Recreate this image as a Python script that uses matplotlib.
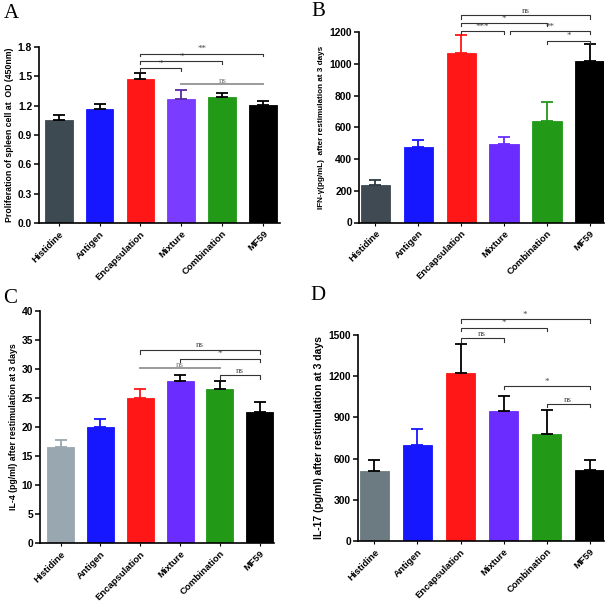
import matplotlib
matplotlib.use("Agg")
import matplotlib.pyplot as plt
import numpy as np

plt.rcParams["font.family"] = ["Liberation Sans", "DejaVu Sans"]
plt.rcParams["font.weight"] = "bold"

# ---- data ------------------------------------------------------------------
CATEGORIES = ["Histidine", "Antigen", "Encapsulation", "Mixture", "Combination", "MF59"]

prolif_mean = [1.05, 1.165, 1.475, 1.27, 1.285, 1.21]
prolif_err = [0.055, 0.05, 0.055, 0.09, 0.04, 0.04]
prolif_ticks = [0.0, 0.3, 0.6, 0.9, 1.2, 1.5, 1.8]
prolif_sig = [(2, 3, 1.585, "*", False), (2, 4, 1.653, "*", False),
              (2, 5, 1.732, "**", False), (3, 5, 1.42, "ns", True)]

ifn_mean = [238, 476, 1068, 493, 638, 1018]
ifn_err = [32, 42, 110, 48, 122, 106]
ifn_ticks = [0, 200, 400, 600, 800, 1000, 1200]
ifn_sig = [(2, 5, 1304, "ns", False), (2, 4, 1256, "*", False),
           (2, 3, 1207, "***", False), (3.15, 5, 1207, "**", False),
           (4, 5, 1146, "*", False)]

il4_mean = [16.6, 20.0, 25.0, 27.9, 26.6, 22.6]
il4_err = [1.15, 1.45, 1.5, 1.1, 1.35, 1.7]
il4_ticks = [0, 5, 10, 15, 20, 25, 30, 35, 40]
il4_sig = [(2, 5, 33.3, "ns", False), (3, 5, 31.8, "*", False),
           (2, 4, 30.1, "ns", True), (4, 5, 28.9, "ns", False)]

il17_mean = [508, 698, 1223, 950, 780, 516]
il17_err = [80, 114, 209, 108, 175, 72]
il17_ticks = [0, 300, 600, 900, 1200, 1500]
il17_sig = [(2, 5, 1614, "*", False), (2, 4, 1554, "*", False),
            (2, 3, 1475, "ns", False), (3, 5, 1130, "*", False),
            (4, 5, 997, "ns", False)]

# ---- styling ---------------------------------------------------------------
BLUE, RED, GREEN, BLACK = "#1616ff", "#ff1616", "#229a18", "#000000"


def draw_panel(ax, means, errs, ticks, sig, ylabel, colors, ecolors, xlim,
               fmt, label_size=6.2):
    x = np.arange(len(CATEGORIES))
    ax.bar(x, means, width=0.68, color=colors, edgecolor=colors, linewidth=0.6, zorder=2)
    for xi, m, e, ec in zip(x, means, errs, ecolors):
        ax.errorbar(xi, m, yerr=[[0], [e]], fmt="none", ecolor=ec,
                    elinewidth=1.3, capsize=4.6, capthick=1.3, zorder=3)
    ax.set_xlim(*xlim)
    ax.set_ylim(ticks[0], ticks[-1])
    ax.set_yticks(ticks)
    ax.set_yticklabels([fmt.format(t) for t in ticks], fontsize=7.4, fontweight="bold")
    ax.set_xticks(x)
    ax.set_xticklabels(CATEGORIES, rotation=45, ha="right", rotation_mode="anchor",
                       fontsize=6.8, fontweight="bold")
    ax.tick_params(axis="y", length=3.5, width=1.1, pad=1.5)
    ax.tick_params(axis="x", length=2.5, width=0.8, pad=2)
    for side in ("top", "right"):
        ax.spines[side].set_visible(False)
    for side in ("left", "bottom"):
        ax.spines[side].set_linewidth(1.2)
    ax.set_ylabel(ylabel, fontsize=label_size, fontweight="bold", labelpad=3)

    span = ticks[-1] - ticks[0]
    for i, j, y, txt, plain in sig:
        if plain:
            ax.plot([i, j], [y, y], color="#9a9a9a", lw=1.4, clip_on=False, zorder=4)
            ax.text((i + j) / 2, y - span * 0.004, txt, ha="center", va="bottom",
                    family="Liberation Serif", fontweight="normal", fontsize=6.5,
                    color="#777777")
        else:
            d = span * 0.016
            ax.plot([i, i, j, j], [y - d, y, y, y - d], color="#333333", lw=0.8,
                    clip_on=False, zorder=4)
            ax.text((i + j) / 2, y + span * 0.002, txt, ha="center", va="bottom",
                    family="Liberation Serif", fontweight="normal", fontsize=6.5,
                    color="#444444")


W, H = 614, 604
fig = plt.figure(figsize=(W / 100, H / 100), dpi=100)


def add_axes(left, top, right, bottom):
    return fig.add_axes([left / W, 1 - bottom / H, (right - left) / W, (bottom - top) / H])


axA = add_axes(39, 47, 280, 223)
axB = add_axes(359, 32, 604, 222.5)
axC = add_axes(40, 311, 274, 543)
axD = add_axes(358, 335, 604, 541)

draw_panel(axA, prolif_mean, prolif_err, prolif_ticks, prolif_sig,
           "Proliferation of spleen cell at  OD (450nm)",
           ["#3e4a52", BLUE, RED, "#7a3cff", GREEN, BLACK],
           [BLACK, BLACK, BLACK, "#5a2aa0", BLACK, BLACK],
           (-0.48, 5.41), "{:.1f}", label_size=6.3)
draw_panel(axB, ifn_mean, ifn_err, ifn_ticks, ifn_sig,
           "IFN-γ(pg/mL)  after restimulation at 3 days",
           ["#3f4a52", BLUE, RED, "#6a2cff", GREEN, BLACK],
           ["#2f3a42", BLUE, RED, "#6a2cff", GREEN, BLACK],
           (-0.38, 5.33), "{:d}", label_size=5.9)
draw_panel(axC, il4_mean, il4_err, il4_ticks, il4_sig,
           "IL-4 (pg/ml) after restimulation at 3 days",
           ["#98a7b0", BLUE, RED, "#6a2cff", GREEN, BLACK],
           ["#98a7b0", BLUE, RED, BLACK, BLACK, BLACK],
           (-0.52, 5.36), "{:d}", label_size=6.3)
draw_panel(axD, il17_mean, il17_err, il17_ticks, il17_sig,
           "IL-17 (pg/ml) after restimulation at 3 days",
           ["#6c7b82", BLUE, RED, "#6a2cff", GREEN, BLACK],
           [BLACK, BLUE, BLACK, BLACK, BLACK, BLACK],
           (-0.38, 5.33), "{:d}", label_size=7.5)

for letter, px, py in [("A", 4, 4), ("B", 311, 2), ("C", 3, 289), ("D", 310, 286)]:
    fig.text(px / W, 1 - py / H, letter, ha="left", va="top",
             family="Liberation Serif", fontweight="normal", fontsize=15)

fig.savefig("out.png", dpi=100)
